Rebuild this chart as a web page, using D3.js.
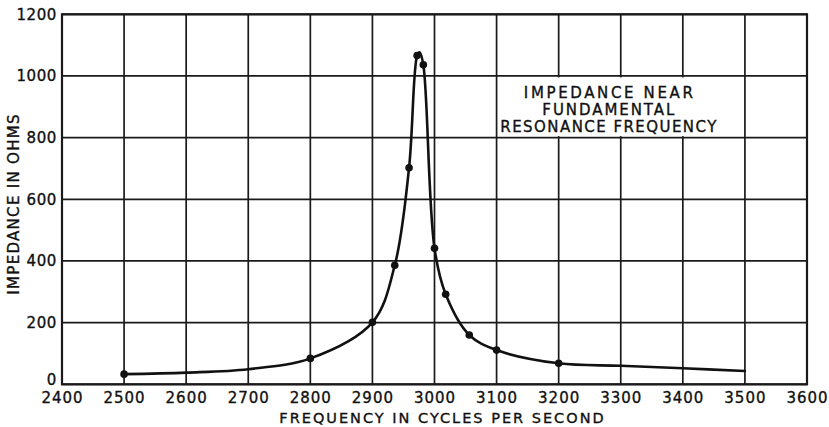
<!DOCTYPE html>
<html>
<head>
<meta charset="utf-8">
<script src="https://cdn.jsdelivr.net/npm/d3@7/dist/d3.min.js"></script>
<style>
  html, body { margin: 0; padding: 0; background: #fff; }
  svg { display: block; }
  text { font-family: "DejaVu Sans", sans-serif; fill: #111; stroke: #111; stroke-width: 0.35px; }
</style>
</head>
<body>
<svg id="chart" width="829" height="427"></svg>
<script>
// Impedance measured near the fundamental resonance (ohms vs. cycles per second)
const curveFreq = [2500, 2600, 2700, 2800, 2900, 2936, 2959, 2972, 2976, 2982, 3000, 3018, 3056, 3100, 3200, 3300, 3400, 3500];
const curveOhms = [33, 38, 49, 84, 201, 386, 702, 1066, 1077, 1036, 441, 292, 160, 111, 68, 60, 52, 43];

// Measured points marked with dots
const pointFreq = [2500, 2800, 2900, 2936, 2959, 2972, 2982, 3000, 3018, 3056, 3100, 3200];
const pointOhms = [33, 84, 201, 386, 702, 1066, 1036, 441, 292, 160, 111, 68];

// Axis ticks
const freqTicks = [2400, 2500, 2600, 2700, 2800, 2900, 3000, 3100, 3200, 3300, 3400, 3500, 3600];
const ohmTicks = [0, 200, 400, 600, 800, 1000, 1200];

// Labels
const xTitle = "FREQUENCY IN CYCLES PER SECOND";
const yTitle = "IMPEDANCE IN OHMS";
const noteLines = ["IMPEDANCE NEAR", "FUNDAMENTAL", "RESONANCE FREQUENCY"];
const noteWidths = [169, 132, 216];

const svg = d3.select("#chart");
const ink = "#1a1a1a";

const x = d3.scaleLinear().domain([2400, 3600]).range([62, 807]);
const y = d3.scaleLinear().domain([0, 1200]).range([384.3, 14.3]);

// Grid lines
const grid = svg.append("g");
grid.selectAll("line.v").data(freqTicks).join("line")
  .attr("x1", d => x(d)).attr("x2", d => x(d))
  .attr("y1", y(0)).attr("y2", y(1200))
  .attr("stroke", ink).attr("stroke-width", 1.7);
grid.selectAll("line.h").data(ohmTicks).join("line")
  .attr("x1", x(2400)).attr("x2", x(3600))
  .attr("y1", d => y(d)).attr("y2", d => y(d))
  .attr("stroke", ink).attr("stroke-width", 1.7);

// Frame
svg.append("rect")
  .attr("x", x(2400)).attr("y", y(1200))
  .attr("width", x(3600) - x(2400)).attr("height", y(0) - y(1200))
  .attr("fill", "none").attr("stroke", ink).attr("stroke-width", 2.2);

// Tick labels
const xAxis = svg.append("g")
  .attr("transform", `translate(0,${y(0)})`)
  .call(d3.axisBottom(x).tickValues(freqTicks).tickSize(0).tickPadding(8).tickFormat(d3.format("d")));
xAxis.select(".domain").remove();
xAxis.selectAll("text")
  .attr("font-size", 15).attr("letter-spacing", "1px")
  .attr("font-family", "DejaVu Sans").attr("fill", "#111");

const yAxis = svg.append("g")
  .attr("transform", `translate(${x(2400)},0)`)
  .call(d3.axisLeft(y).tickValues(ohmTicks).tickSize(0).tickPadding(5).tickFormat(d3.format("d")));
yAxis.select(".domain").remove();
yAxis.selectAll("text")
  .attr("font-size", 15).attr("letter-spacing", "0.6px")
  .attr("font-family", "DejaVu Sans").attr("fill", "#111");
// lift the zero label clear of the frequency labels
yAxis.selectAll(".tick").filter(d => d === 0).select("text").attr("dy", "-0.02em");

// Axis titles
svg.append("text")
  .attr("x", 442.5).attr("y", 423)
  .attr("text-anchor", "middle")
  .attr("font-size", 14.5).attr("letter-spacing", "2px")
  .text(xTitle);

svg.append("text")
  .attr("transform", `translate(18.5,${y(585)}) rotate(-90)`)
  .attr("text-anchor", "middle")
  .attr("font-size", 15).attr("letter-spacing", "1.3px")
  .text(yTitle);

// Note box: blank out the inner grid behind the caption
svg.append("rect")
  .attr("x", x(3100) + 1.5).attr("y", y(1000) + 1.5)
  .attr("width", x(3500) - x(3100) - 3).attr("height", y(800) - y(1000) - 3)
  .attr("fill", "#fff");

const note = svg.append("text")
  .attr("text-anchor", "middle")
  .attr("font-size", 15);
note.selectAll("tspan").data(noteLines).join("tspan")
  .attr("x", x(3280))
  .attr("y", (d, i) => y(930) + i * 17)
  .attr("textLength", (d, i) => noteWidths[i])
  .attr("lengthAdjust", "spacing")
  .text(d => d);

// Impedance curve
const curveData = curveFreq.map((f, i) => [f, curveOhms[i]]);
const line = d3.line()
  .x(d => x(d[0])).y(d => y(d[1]))
  .curve(d3.curveCatmullRom.alpha(0.5));
svg.append("path")
  .datum(curveData)
  .attr("d", line)
  .attr("fill", "none").attr("stroke", "#111").attr("stroke-width", 2.6)
  .attr("stroke-linejoin", "round").attr("stroke-linecap", "round");

// Measured points
svg.append("g").selectAll("circle")
  .data(pointFreq.map((f, i) => [f, pointOhms[i]]))
  .join("circle")
  .attr("cx", d => x(d[0])).attr("cy", d => y(d[1]))
  .attr("r", 3.8).attr("fill", "#111");
</script>
</body>
</html>
